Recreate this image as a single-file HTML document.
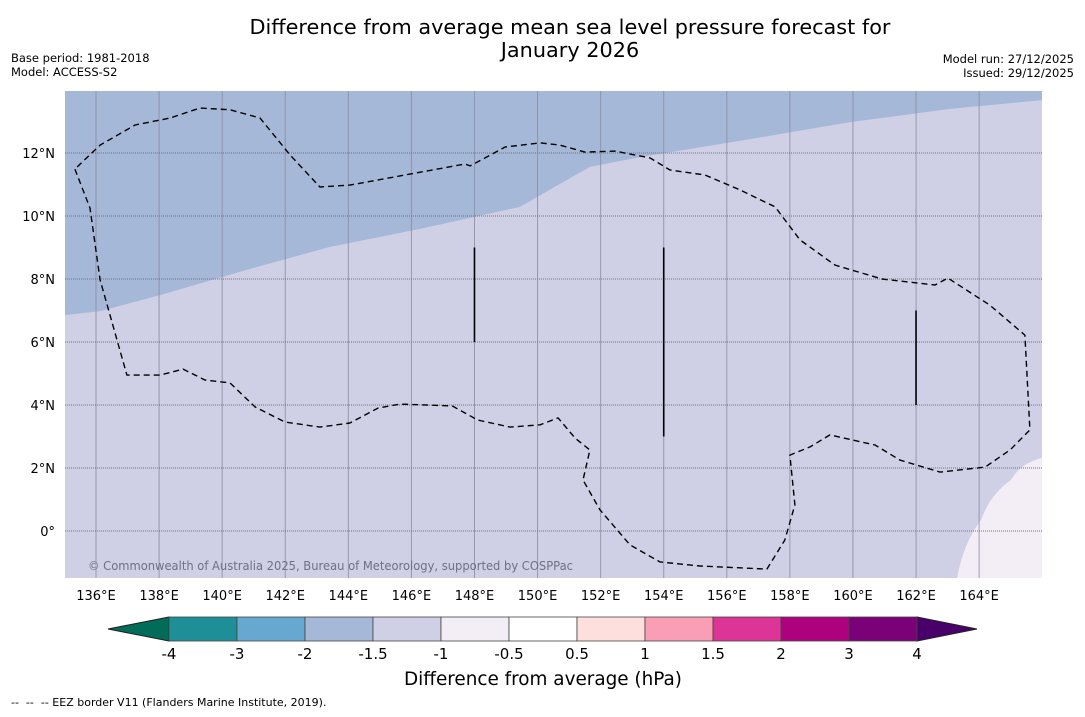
<!DOCTYPE html>
<html><head><meta charset="utf-8"><style>
body{margin:0;background:#fff;width:1085px;height:713px;overflow:hidden;font-family:"DejaVu Sans","Liberation Sans",sans-serif}
</style></head><body>
<svg width="1085" height="713" xmlns="http://www.w3.org/2000/svg" font-family="DejaVu Sans, Liberation Sans, sans-serif">
<text x="570" y="34" text-anchor="middle" font-size="20.8">Difference from average mean sea level pressure forecast for</text>
<text x="570" y="57" text-anchor="middle" font-size="20.8">January 2026</text>
<text x="11" y="62" font-size="11.5">Base period: 1981-2018</text>
<text x="11" y="76" font-size="11.5">Model: ACCESS-S2</text>
<text x="1074" y="63" font-size="11.5" text-anchor="end">Model run: 27/12/2025</text>
<text x="1074" y="77" font-size="11.5" text-anchor="end">Issued: 29/12/2025</text>
<g id="map"></g>
<g id="cbar"></g>
<text x="543" y="685" text-anchor="middle" font-size="18.4">Difference from average (hPa)</text>
<text x="11" y="706" font-size="11" xml:space="preserve">--  --  -- EEZ border V11 (Flanders Marine Institute, 2019).</text>
</svg>
<script>
const lonTicks=[136,138,140,142,144,146,148,150,152,154,156,158,160,162,164];
const latTicks=[0,2,4,6,8,10,12];
const eezLon=[135.33,135.81,136.13,136.98,138.03,138.76,139.46,140.25,141.04,141.99,143.10,144.05,144.94,145.64,147.29,148.11,149.13,150.08,150.65,151.19,151.66,151.44,151.98,152.93,153.88,155.15,157.27,157.84,158.16,158.00,158.64,159.27,160.70,161.49,162.76,164.19,164.98,165.61,165.45,164.34,163.01,162.60,160.92,159.43,158.32,157.53,156.42,155.31,154.20,153.57,152.46,151.50,150.71,150.08,148.97,148.33,147.86,147.70,144.05,143.10,142.15,141.20,140.25,139.30,138.35,137.24,136.13,135.33];
const eezLat=[11.49,10.25,7.97,4.95,4.95,5.14,4.79,4.70,3.94,3.46,3.30,3.43,3.90,4.03,3.97,3.52,3.30,3.37,3.59,2.95,2.57,1.62,0.67,-0.44,-0.98,-1.11,-1.21,-0.29,0.83,2.41,2.67,3.05,2.73,2.25,1.87,2.03,2.57,3.21,6.22,7.17,8.03,7.81,8.00,8.44,9.24,10.29,10.83,11.30,11.46,11.84,12.06,12.03,12.25,12.32,12.19,11.84,11.59,11.65,10.98,10.92,11.94,13.11,13.37,13.43,13.11,12.89,12.25,11.49];
const blueLon=[135,136.13,138.03,140.88,143.42,146.27,149.44,150.71,151.66,153.25,156.74,159.91,163.08,166];
const blueLat=[6.85,6.98,7.49,8.32,9.02,9.59,10.29,11.02,11.56,11.87,12.44,12.98,13.40,13.68];
const lightLon=[163.3,164.06,165.01,166];
const lightLat=[-1.5,0.35,1.62,2.32];
const lineLon=[148,154,162];
const lineTop=[9,9,7];
const lineBot=[6,3,4];
const levels=["-4","-3","-2","-1.5","-1","-0.5","0.5","1","1.5","2","3","4"];
const colors=["#1e8f96","#66a8d0","#a5b8d8","#cfcfe6","#f3eef5","#ffffff","#fde0dd","#f99eb5","#dd3497","#ae017e","#7a0177"];
const NS="http://www.w3.org/2000/svg";
const X0=65,X1=1042,Y0=91,Y1=578;
const xs=lon=>96+(lon-136)*31.54;
const ys=lat=>531-lat*31.5;
function mk(tag,attrs,parent){const e=document.createElementNS(NS,tag);for(const k in attrs)e.setAttribute(k,attrs[k]);parent.appendChild(e);return e;}
const map=document.getElementById('map');
const defs=mk('defs',{},map);
const cp=mk('clipPath',{id:'clip'},defs);mk('rect',{x:X0,y:Y0,width:X1-X0,height:Y1-Y0},cp);
const g=mk('g',{'clip-path':'url(#clip)'},map);
const bg=mk('rect',{x:X0,y:Y0,width:X1-X0,height:Y1-Y0,fill:'#cfcfe6'},g);


let d='M'+X0+','+Y0+' ';blueLon.forEach((l,i)=>d+='L'+xs(l).toFixed(1)+','+ys(blueLat[i]).toFixed(1)+' ');d+='L'+X1+','+Y0+'Z';
const bl=mk('path',{d:d,fill:'#a5b8d8'},g);


d='M'+xs(lightLon[0])+','+ys(lightLat[0])+' ';
for(let i=1;i<lightLon.length;i++){const pl=ys(lightLat[i-1]),cl=ys(lightLat[i]);d+='Q'+xs(lightLon[i-1]+ (i==1?0.2:0.3)).toFixed(1)+','+((pl+cl)/2-6).toFixed(1)+' '+xs(lightLon[i]).toFixed(1)+','+cl.toFixed(1)+' ';}
d+='L'+X1+','+Y1+'Z';
const lt=mk('path',{d:d,fill:'#f3eef5'},g);


lonTicks.forEach(l=>{const x=xs(l);const gl=mk('line',{x1:x,x2:x,y1:Y0,y2:Y1,stroke:'#8a8aa0','stroke-width':1,opacity:0.8},g);


const t=mk('text',{x:x,y:Y1+22,'text-anchor':'middle','font-size':13},map);t.textContent=l+'°E';

});
latTicks.forEach(l=>{const y=ys(l);const gl=mk('line',{x1:X0,x2:X1,y1:y,y2:y,stroke:'#707080','stroke-width':1,'stroke-dasharray':'1,1'},g);


const t=mk('text',{x:X0-10,y:y+5,'text-anchor':'end','font-size':13},map);t.textContent=l===0?'0°':l+'°N';

});
d='';eezLon.forEach((l,i)=>d+=(i?'L':'M')+xs(l).toFixed(1)+','+ys(eezLat[i]).toFixed(1)+' ');
const ez=mk('path',{d:d,fill:'none',stroke:'#000','stroke-width':1.4,'stroke-dasharray':'6,4','stroke-linejoin':'round'},g);


lineLon.forEach((l,i)=>{const ln=mk('line',{x1:xs(l),x2:xs(l),y1:ys(lineTop[i]),y2:ys(lineBot[i]),stroke:'#000','stroke-width':1.6},g);

});
const ct=mk('text',{x:88,y:570,'font-size':12,fill:'#707080',textLength:485,lengthAdjust:'spacingAndGlyphs'},g);ct.textContent='© Commonwealth of Australia 2025, Bureau of Meteorology, supported by COSPPac';


const cb=document.getElementById('cbar');
const CX0=169,CX1=917,CY0=617,CY1=641,w=(CX1-CX0)/colors.length;
const lt1=mk('polygon',{points:`${CX0},${CY0} 108,${(CY0+CY1)/2} ${CX0},${CY1}`,fill:'#016c59',stroke:'#222','stroke-width':1},cb);


const rt1=mk('polygon',{points:`${CX1},${CY0} 977,${(CY0+CY1)/2} ${CX1},${CY1}`,fill:'#49006a',stroke:'#222','stroke-width':1},cb);


colors.forEach((c,i)=>{const r=mk('rect',{x:CX0+i*w,y:CY0,width:w,height:CY1-CY0,fill:c,stroke:'#444','stroke-width':0.8},cb);

});
levels.forEach((v,i)=>{const t=mk('text',{x:CX0+i*w,y:659,'text-anchor':'middle','font-size':15},cb);t.textContent=v;

});
</script>
</body></html>
